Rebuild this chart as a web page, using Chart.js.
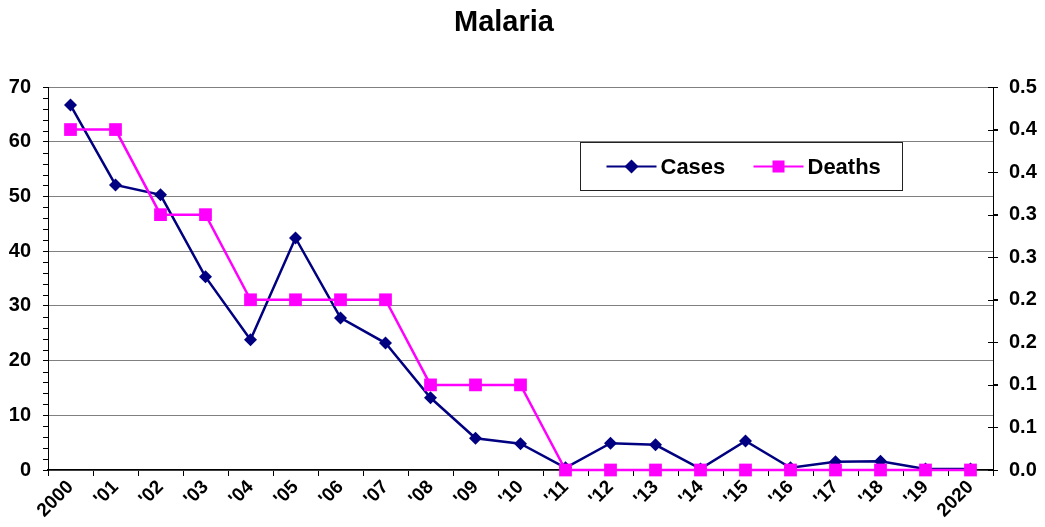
<!DOCTYPE html>
<html>
<head>
<meta charset="utf-8">
<title>Malaria</title>
<script src="https://cdn.jsdelivr.net/npm/chart.js@4/dist/chart.umd.min.js"></script>
<style>
  html, body { margin: 0; padding: 0; background: #fff; }
  #wrap { width: 1045px; height: 527px; }
</style>
</head>
<body>
<div id="wrap"><canvas id="malariaChart"></canvas></div>
<script>
// Chart data
const years = ['2000', "'01", "'02", "'03", "'04", "'05", "'06", "'07", "'08", "'09", "'10",
  "'11", "'12", "'13", "'14", "'15", "'16", "'17", "'18", "'19", '2020'];
const cases = [66.7, 52.1, 50.3, 35.3, 23.8, 42.4, 27.8, 23.2, 13.2, 5.8, 4.8,
  0.4, 4.9, 4.6, 0.2, 5.3, 0.4, 1.5, 1.6, 0.2, 0.2];
const deaths = [0.4, 0.4, 0.3, 0.3, 0.2, 0.2, 0.2, 0.2, 0.1, 0.1, 0.1,
  0, 0, 0, 0, 0, 0, 0, 0, 0, 0];
// Excel rounds the 0.05 steps of the right axis to one decimal
const rightTickLabels = ['0.0', '0.1', '0.1', '0.2', '0.2', '0.3', '0.3', '0.4', '0.4', '0.5'];

const FONT = '"Liberation Sans", Arial, sans-serif';

// title, minor ticks on the left axis, crossing ticks on the right axis, legend box
const excelBits = {
  id: 'excelBits',
  afterDraw(chart) {
    const c = chart.ctx;
    const y = chart.scales.y;
    const area = chart.chartArea;
    c.save();

    // title sits a bit left of the canvas centre, like the original
    c.fillStyle = '#000';
    c.font = 'bold 29px ' + FONT;
    c.textAlign = 'center';
    c.textBaseline = 'middle';
    c.fillText('Malaria', 504, 23);

    c.strokeStyle = '#000';
    c.lineWidth = 1;
    for (let v = 0; v <= 70; v += 2) {
      if (v % 10 === 0) continue;
      const py = Math.round(y.getPixelForValue(v)) + 0.5;
      c.beginPath();
      c.moveTo(area.left - 5, py);
      c.lineTo(area.left, py);
      c.stroke();
    }
    const y2 = chart.scales.y2;
    for (let i = 0; i < rightTickLabels.length; i++) {
      const py = Math.round(y2.getPixelForValue(i * 0.05)) + 0.5;
      c.beginPath();
      c.moveTo(area.right - 5, py);
      c.lineTo(area.right + 5, py);
      c.stroke();
    }

    // legend
    const bx = 580.5, by = 142.5, bw = 322, bh = 48;
    c.fillStyle = '#fff';
    c.fillRect(bx, by, bw, bh);
    c.strokeStyle = '#222';
    c.strokeRect(bx, by, bw, bh);
    c.font = 'bold 22px ' + FONT;
    c.textBaseline = 'middle';
    const my = by + bh / 2;
    chart.data.datasets.forEach((ds, i) => {
      const x0 = bx + 26 + i * 147;
      c.strokeStyle = ds.borderColor;
      c.lineWidth = 2;
      c.beginPath();
      c.moveTo(x0, my);
      c.lineTo(x0 + 50, my);
      c.stroke();
      c.fillStyle = ds.pointBackgroundColor;
      const cx = x0 + 25;
      if (ds.pointStyle === 'rectRot') {
        c.beginPath();
        c.moveTo(cx, my - 7);
        c.lineTo(cx + 7, my);
        c.lineTo(cx, my + 7);
        c.lineTo(cx - 7, my);
        c.closePath();
        c.fill();
      } else {
        c.fillRect(cx - 6, my - 6, 12, 12);
      }
      c.fillStyle = '#000';
      c.textAlign = 'left';
      c.fillText(ds.label, x0 + 54, my + 1);
    });
    c.restore();
  }
};

const ctx = document.getElementById('malariaChart').getContext('2d');
new Chart(ctx, {
  type: 'line',
  data: {
    labels: years,
    datasets: [{
      label: 'Cases',
      data: cases,
      yAxisID: 'y',
      order: 1,
      borderColor: '#000080',
      backgroundColor: '#000080',
      pointBackgroundColor: '#000080',
      pointBorderColor: '#000080',
      pointStyle: 'rectRot',
      pointRadius: 6.5,
      pointBorderWidth: 0,
      borderWidth: 2.5,
      tension: 0,
      clip: false
    }, {
      label: 'Deaths',
      data: deaths,
      yAxisID: 'y2',
      order: 0, // drawn over the cases line
      borderColor: '#FF00FF',
      backgroundColor: '#FF00FF',
      pointBackgroundColor: '#FF00FF',
      pointBorderColor: '#FF00FF',
      pointStyle: 'rect',
      pointRadius: 9,
      pointBorderWidth: 0,
      borderWidth: 2.5,
      tension: 0,
      clip: false
    }]
  },
  options: {
    responsive: true,
    maintainAspectRatio: false,
    animation: false,
    layout: { padding: { top: 87, left: 0, right: 0, bottom: 0 } },
    plugins: {
      legend: { display: false },
      tooltip: { enabled: false },
      title: { display: false }
    },
    scales: {
      x: {
        offset: true,
        grid: {
          drawOnChartArea: false,
          drawTicks: true,
          tickLength: 6,
          color: '#000',
          offset: true
        },
        border: { color: '#000', width: 1.5 },
        ticks: {
          color: '#000',
          font: { family: FONT, size: 19, weight: 'bold' },
          minRotation: 45,
          maxRotation: 45,
          padding: 0,
          autoSkip: false
        },
        afterFit(scale) { scale.height = 57; }
      },
      y: {
        position: 'left',
        min: 0,
        max: 70,
        ticks: {
          stepSize: 10,
          color: '#000',
          font: { family: FONT, size: 20, weight: 'bold' },
          padding: 12
        },
        grid: {
          color: '#808080',
          lineWidth: 1,
          drawTicks: true,
          tickLength: 5,
          tickColor: '#000'
        },
        border: { color: '#000', width: 1 },
        afterFit(scale) { scale.width = 48; }
      },
      y2: {
        position: 'right',
        min: 0,
        max: 0.45,
        ticks: {
          stepSize: 0.05,
          color: '#000',
          font: { family: FONT, size: 20, weight: 'bold' },
          padding: 11,
          callback: function(value, index) { return rightTickLabels[index]; }
        },
        grid: { drawOnChartArea: false, drawTicks: true, tickLength: 5, color: '#000' },
        border: { color: '#000', width: 1 },
        afterFit(scale) { scale.width = 52; }
      }
    }
  },
  plugins: [excelBits]
});
</script>
</body>
</html>
